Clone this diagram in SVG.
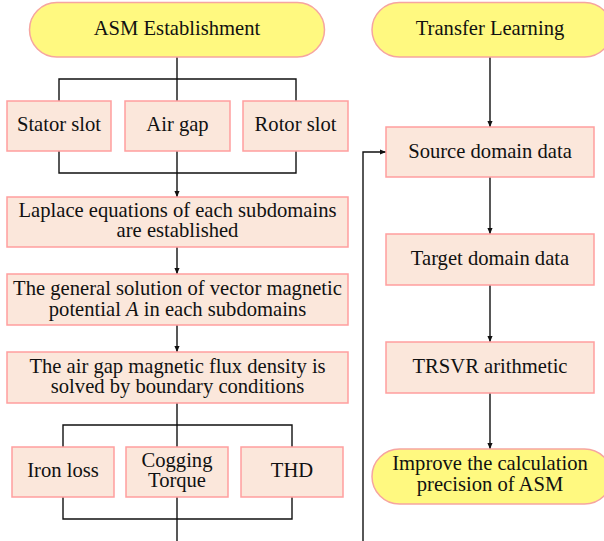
<svg xmlns="http://www.w3.org/2000/svg" width="604" height="541" viewBox="0 0 604 541">
<style>
.box{fill:#FBE7DB;stroke:#FF9E9E;stroke-width:1.5}
.pill{fill:#FFF980;stroke:#F6A5A0;stroke-width:1.5}
text{font-size:20.6px;fill:#111;text-anchor:middle}
.ln{fill:none;stroke:#111;stroke-width:1.4}
</style>
<defs>
<marker id="ah" markerWidth="8" markerHeight="8" refX="6.5" refY="4" orient="auto" markerUnits="userSpaceOnUse">
<path d="M0,1.2 L6.5,4 L0,6.8 Z" fill="#111"/>
</marker>
</defs>
<rect width="604" height="541" fill="#fff"/>
<g id="connectors">
<path class="ln" d="M177,57 V101"/>
<path class="ln" d="M59,101 V79 H296 V101"/>
<path class="ln" d="M59,151 V173 H296 V151"/>
<path class="ln" d="M177,151 V197" marker-end="url(#ah)"/>
<path class="ln" d="M177,247 V274" marker-end="url(#ah)"/>
<path class="ln" d="M177,325 V352" marker-end="url(#ah)"/>
<path class="ln" d="M177,403 V447"/>
<path class="ln" d="M63,447 V425 H292 V447"/>
<path class="ln" d="M63,497 V519 H292 V497"/>
<path class="ln" d="M177,497 V541"/>
<path class="ln" d="M490,57 V127" marker-end="url(#ah)"/>
<path class="ln" d="M490,177 V234" marker-end="url(#ah)"/>
<path class="ln" d="M490,285 V342" marker-end="url(#ah)"/>
<path class="ln" d="M490,393 V449" marker-end="url(#ah)"/>
<path class="ln" d="M363,541 V152 H386" marker-end="url(#ah)"/>
</g>
<g id="asm">
<rect class="pill" x="29.5" y="2.5" width="295" height="54.5" rx="27.25"/>
<text x="177" y="35" font-family="Liberation Serif">ASM Establishment</text>
</g>
<g id="stator">
<rect class="box" x="7" y="101" width="104" height="50"/>
<text x="59" y="131" font-family="Liberation Serif">Stator slot</text>
</g>
<g id="airgap">
<rect class="box" x="125" y="101" width="105" height="50"/>
<text x="177.5" y="131" font-family="Liberation Serif">Air gap</text>
</g>
<g id="rotor">
<rect class="box" x="243" y="101" width="105" height="50"/>
<text x="295.5" y="131" font-family="Liberation Serif">Rotor slot</text>
</g>
<g id="laplace">
<rect class="box" x="7" y="197" width="341" height="50"/>
<text x="177.5" y="217" font-family="Liberation Serif">Laplace equations of each subdomains</text>
<text x="177.5" y="237" font-family="Liberation Serif">are established</text>
</g>
<g id="general">
<rect class="box" x="7" y="274" width="341" height="51"/>
<text x="177.5" y="295" font-family="Liberation Serif">The general solution of vector magnetic</text>
<text x="177.5" y="316" font-family="Liberation Serif">potential <tspan font-style="italic">A</tspan> in each subdomains</text>
</g>
<g id="flux">
<rect class="box" x="7" y="352" width="341" height="51"/>
<text x="177.5" y="373" font-family="Liberation Serif">The air gap magnetic flux density is</text>
<text x="177.5" y="393" font-family="Liberation Serif">solved by boundary conditions</text>
</g>
<g id="iron">
<rect class="box" x="12" y="447" width="102" height="50"/>
<text x="63" y="477" font-family="Liberation Serif">Iron loss</text>
</g>
<g id="cogging">
<rect class="box" x="126" y="447" width="102" height="50"/>
<text x="177" y="467" font-family="Liberation Serif">Cogging</text>
<text x="177" y="487" font-family="Liberation Serif">Torque</text>
</g>
<g id="thd">
<rect class="box" x="241" y="447" width="102" height="50"/>
<text x="292" y="477" font-family="Liberation Serif">THD</text>
</g>
<g id="transfer">
<rect class="pill" x="372" y="2.5" width="240" height="54.5" rx="27.25"/>
<text x="490" y="35" font-family="Liberation Serif">Transfer Learning</text>
</g>
<g id="source">
<rect class="box" x="386" y="127" width="208" height="50"/>
<text x="490" y="158" font-family="Liberation Serif">Source domain data</text>
</g>
<g id="target">
<rect class="box" x="386" y="234" width="208" height="51"/>
<text x="490" y="265" font-family="Liberation Serif">Target domain data</text>
</g>
<g id="trsvr">
<rect class="box" x="386" y="342" width="208" height="51"/>
<text x="490" y="373" font-family="Liberation Serif">TRSVR arithmetic</text>
</g>
<g id="improve">
<rect class="pill" x="372" y="449" width="240" height="55" rx="27.5"/>
<text x="490" y="470" font-family="Liberation Serif">Improve the calculation</text>
<text x="490" y="491" font-family="Liberation Serif">precision of ASM</text>
</g>
</svg>
